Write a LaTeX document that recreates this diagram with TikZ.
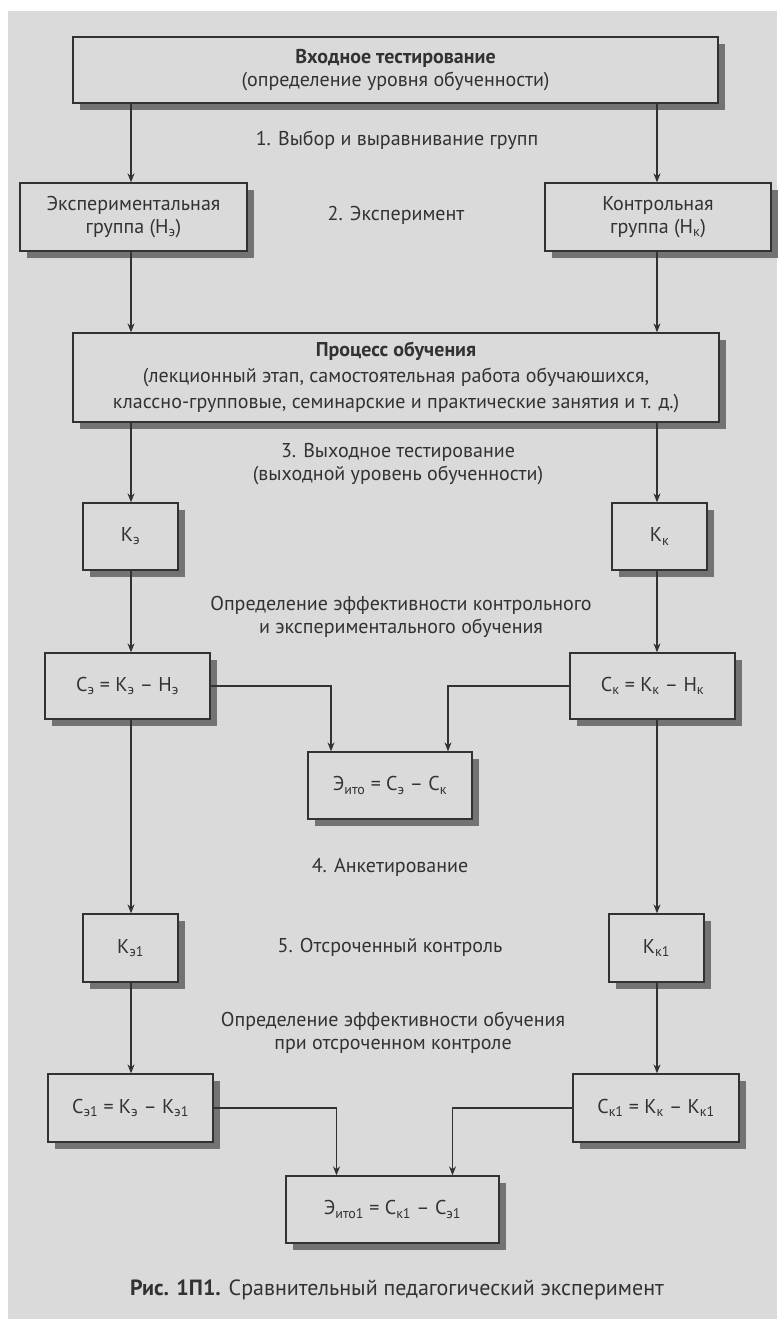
\documentclass[tikz,border=0pt]{standalone}
\usepackage{fontspec}
\setmainfont{PT Sans}
\usetikzlibrary{arrows.meta,positioning}
\definecolor{pagegray}{RGB}{218,218,218}
\definecolor{inkgray}{RGB}{50,50,50}
\definecolor{shadegray}{RGB}{115,115,115}

\begin{document}
\begin{tikzpicture}[x=1pt,y=-1pt,
    font=\fontsize{20}{23}\selectfont,
    box/.style={draw=inkgray, line width=1.3pt, fill=pagegray, text=inkgray,
      align=center, inner sep=0pt},
    lbl/.style={text=inkgray, align=center},
    arr/.style={draw=inkgray, line width=1.2pt, -{Stealth[length=9pt,width=7pt]}}]

    % Page
    \fill[white] (0,0) rectangle (777,1319);
    \fill[pagegray] (8,11) rectangle (777,1319);
    \useasboundingbox (0,0) rectangle (777,1319);

    % Shadows
    \fill[shadegray] (80,44) rectangle (725,110);
    \fill[shadegray] (27,190) rectangle (254,258);
    \fill[shadegray] (552,190) rectangle (778,258);
    \fill[shadegray] (80,340) rectangle (726,429);
    \fill[shadegray] (90,510) rectangle (185,577);
    \fill[shadegray] (619,510) rectangle (714,577);
    \fill[shadegray] (52,660) rectangle (217,726);
    \fill[shadegray] (577,660) rectangle (742,726);
    \fill[shadegray] (315,759) rectangle (479,826);
    \fill[shadegray] (90,921) rectangle (185,989);
    \fill[shadegray] (616,921) rectangle (711,989);
    \fill[shadegray] (55,1081) rectangle (220,1149);
    \fill[shadegray] (580,1081) rectangle (746,1149);
    \fill[shadegray] (293,1183) rectangle (506,1250);

    % Input test
    \node[box, minimum width=645pt, minimum height=66pt] (in) at (395.5,70)
        {\textbf{Входное тестирование}\\(определение уровня обученности)};
    \node[lbl] (step1) at (397,140) {1. Выбор и выравнивание групп};

    % Groups
    \node[box, minimum width=227pt, minimum height=68pt] (expgr) at (133.5,217)
        {Экспериментальная\\группа (Н\textsubscript{э})};
    \node[box, minimum width=226pt, minimum height=68pt] (ctrgr) at (658,217)
        {Контрольная\\группа (Н\textsubscript{к})};
    \node[lbl] (step2) at (396,215) {2. Эксперимент};

    % Teaching
    \node[box, minimum width=646pt, minimum height=89pt] (proc) at (396,377.5)
        {\textbf{Процесс обучения}\\[3pt]
         (лекционный этап, самостоятельная работа обучаюшихся,\\[3pt]
         классно-групповые, семинарские и практические занятия и т. д.)};
    \node[lbl] (step3) at (398,464) {3. Выходное тестирование\\(выходной уровень обученности)};

    % Output level
    \node[box, minimum width=95pt, minimum height=67pt] (ke) at (130.5,536.5) {К\textsubscript{э}};
    \node[box, minimum width=95pt, minimum height=67pt] (kk) at (659.5,536.5) {К\textsubscript{к}};
    \node[lbl] (eff) at (401,617) {Определение эффективности контрольного\\и экспериментального обучения};

    % Efficiency
    \node[box, minimum width=165pt, minimum height=66pt] (ce) at (127.5,686)
        {С\textsubscript{э} = К\textsubscript{э} – Н\textsubscript{э}};
    \node[box, minimum width=165pt, minimum height=66pt] (ck) at (652.5,686)
        {С\textsubscript{к} = К\textsubscript{к} – Н\textsubscript{к}};
    \node[box, minimum width=164pt, minimum height=67pt] (eito) at (390,785.5)
        {Э\textsubscript{ито} = С\textsubscript{э} – С\textsubscript{к}};
    \node[lbl] (step4) at (390,867) {4. Анкетирование};

    % Delayed control
    \node[box, minimum width=95pt, minimum height=68pt] (ke1) at (130.5,948) {К\textsubscript{э1}};
    \node[box, minimum width=95pt, minimum height=68pt] (kk1) at (656.5,948) {К\textsubscript{к1}};
    \node[lbl] (step5) at (390,947) {5. Отсроченный контроль};
    \node[lbl] (eff1) at (393,1033) {Определение эффективности обучения\\при отсроченном контроле};

    \node[box, minimum width=165pt, minimum height=68pt] (ce1) at (130.5,1108)
        {С\textsubscript{э1} = К\textsubscript{э} – К\textsubscript{э1}};
    \node[box, minimum width=166pt, minimum height=68pt] (ck1) at (656,1108)
        {С\textsubscript{к1} = К\textsubscript{к} – К\textsubscript{к1}};
    \node[box, minimum width=213pt, minimum height=67pt] (eito1) at (392.5,1209.5)
        {Э\textsubscript{ито1} = С\textsubscript{к1} – С\textsubscript{э1}};

    % Caption
    \node[lbl, font=\fontsize{22}{26}\selectfont] (cap) at (397,1290)
        {\textbf{Рис. 1П1.} Сравнительный педагогический эксперимент};

    % Arrows
    \coordinate (lx) at (131,0);
    \coordinate (rx) at (657,0);
    \foreach \a/\b in {in/expgr, expgr/proc, proc/ke, ke/ce, ce/ke1, ke1/ce1}
        \draw[arr] (\a.south -| lx) -- (\b.north -| lx);
    \foreach \a/\b in {in/ctrgr, ctrgr/proc, proc/kk, kk/ck, ck/kk1, kk1/ck1}
        \draw[arr] (\a.south -| rx) -- (\b.north -| rx);
    \draw[arr] (ce.east) -| ([xshift=-59pt]eito.north);
    \draw[arr] (ck.west) -| ([xshift=58pt]eito.north);
    \draw[arr] (ce1.east) -| ([xshift=-56pt]eito1.north);
    \draw[arr] (ck1.west) -| ([xshift=60pt]eito1.north);
\end{tikzpicture}
\end{document}
